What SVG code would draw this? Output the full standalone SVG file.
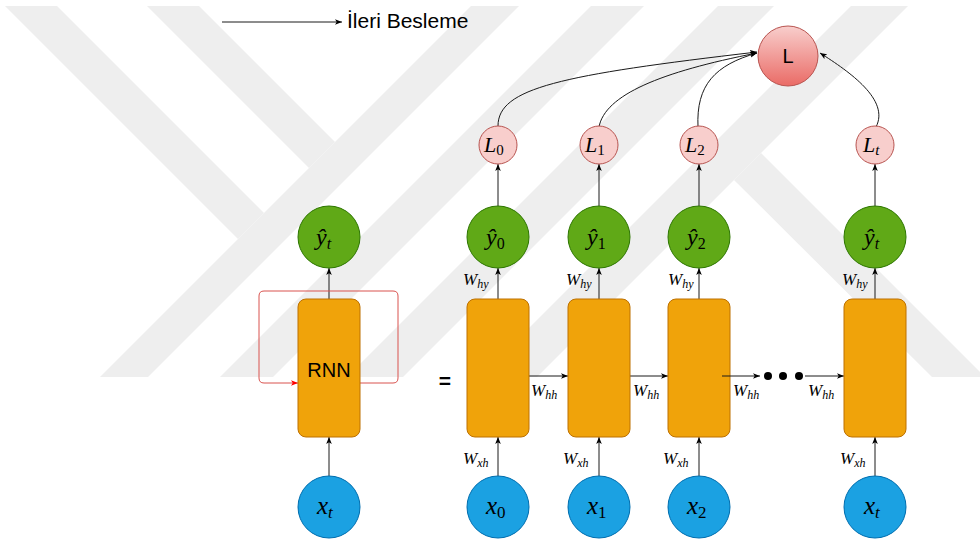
<svg xmlns="http://www.w3.org/2000/svg" width="980" height="540" viewBox="0 0 980 540">
<defs>
<style>
.wm{fill:#eeeeee}
.edge{fill:none;stroke:#1a1a1a;stroke-width:1}
.loop{fill:none;stroke:#d9534f;stroke-width:1}
.cell{fill:#f0a30a;stroke:#bd7000;stroke-width:1}
.out{fill:#60a917;stroke:#2d7600;stroke-width:1}
.inp{fill:#1ba1e2;stroke:#006eaf;stroke-width:1}
.loss{fill:#f8cecc;stroke:#b85450;stroke-width:1}
.m{font-family:"Liberation Serif","Times New Roman",serif;font-style:italic;fill:#000}
.up{font-style:normal}
.sans{font-family:"Liberation Sans",Arial,sans-serif;fill:#000}
.w{font-family:"Liberation Serif","Times New Roman",serif;font-style:italic;font-size:17px;fill:#000}
.ws{font-size:12px}
</style>
<linearGradient id="lg" x1="0" y1="0" x2="0" y2="1">
<stop offset="0" stop-color="#f8cecc"/>
<stop offset="1" stop-color="#ea6b66"/>
</linearGradient>
<marker id="ah" viewBox="0 0 10 8" refX="10" refY="4" markerWidth="7" markerHeight="6" orient="auto" markerUnits="userSpaceOnUse">
<path d="M0,0 L10,4 L0,8 L2.5,4 z" fill="#000"/>
</marker>
<marker id="ahr" viewBox="0 0 10 8" refX="10" refY="4" markerWidth="7" markerHeight="6" orient="auto" markerUnits="userSpaceOnUse">
<path d="M0,0 L10,4 L0,8 L2.5,4 z" fill="#ff0000"/>
</marker>
</defs>

<g id="watermark">
<polygon class="wm" points="5,6 57,6 264,213 238,239"/>
<polygon class="wm" points="147,6 199,6 335,142 309,168"/>
<polygon class="wm" points="471,6 519,6 148,377 100,377"/>
<polygon class="wm" points="591,6 644,6 273,377 220,377"/>
<polygon class="wm" points="718,6 774,6 403,377 347,377"/>
<polygon class="wm" points="851,6 908,6 537,377 480,377"/>
<polygon class="wm" points="761,153 985,377 932,377 734,180"/>
</g>

<g id="legend">
<line class="edge" x1="222" y1="22" x2="342" y2="22" marker-end="url(#ah)"/>
<text class="sans" x="347" y="28" font-size="21">İleri Besleme</text>
</g>

<g id="connectors">
<line class="edge" x1="329" y1="476" x2="329" y2="437" marker-end="url(#ah)"/>
<line class="edge" x1="329" y1="299" x2="329" y2="268" marker-end="url(#ah)"/>
<path class="loop" d="M360,383 L393,383 Q398,383 398,378 L398,296 Q398,291 393,291 L264,291 Q259,291 259,296 L259,378 Q259,383 264,383 L298,383" marker-end="url(#ahr)"/>
<line class="edge" x1="498" y1="476" x2="498" y2="437" marker-end="url(#ah)"/>
<line class="edge" x1="599" y1="476" x2="599" y2="437" marker-end="url(#ah)"/>
<line class="edge" x1="699" y1="476" x2="699" y2="437" marker-end="url(#ah)"/>
<line class="edge" x1="875" y1="476" x2="875" y2="437" marker-end="url(#ah)"/>
<line class="edge" x1="498" y1="299" x2="498" y2="268" marker-end="url(#ah)"/>
<line class="edge" x1="599" y1="299" x2="599" y2="268" marker-end="url(#ah)"/>
<line class="edge" x1="699" y1="299" x2="699" y2="268" marker-end="url(#ah)"/>
<line class="edge" x1="875" y1="299" x2="875" y2="268" marker-end="url(#ah)"/>
<line class="edge" x1="498" y1="206" x2="498" y2="164" marker-end="url(#ah)"/>
<line class="edge" x1="599" y1="206" x2="599" y2="164" marker-end="url(#ah)"/>
<line class="edge" x1="699" y1="206" x2="699" y2="164" marker-end="url(#ah)"/>
<line class="edge" x1="875" y1="206" x2="875" y2="164" marker-end="url(#ah)"/>
<line class="edge" x1="528" y1="376" x2="568" y2="376" marker-end="url(#ah)"/>
<line class="edge" x1="630" y1="376" x2="668" y2="376" marker-end="url(#ah)"/>
<line class="edge" x1="805" y1="376" x2="844" y2="376" marker-end="url(#ah)"/>
<path class="edge" d="M498,126 C498,88 560,75 757,52" marker-end="url(#ah)"/>
<path class="edge" d="M599,127 C605,95 660,72 757,53" marker-end="url(#ah)"/>
<path class="edge" d="M698,127 C696,85 715,65 757,53" marker-end="url(#ah)"/>
<path class="edge" d="M876,127 C890,100 850,72 820,53" marker-end="url(#ah)"/>
</g>

<g id="rnn">
<rect class="cell" x="298" y="299" width="62" height="138" rx="8"/>
<text class="sans" x="329" y="377" font-size="20" text-anchor="middle">RNN</text>
</g>
<g id="yt-folded"><circle class="out" cx="329" cy="237" r="31"/><text class="m" x="316" y="245" font-size="24">ŷ<tspan font-size="16" dy="4">t</tspan></text></g>
<g id="xt-folded"><circle class="inp" cx="329" cy="507" r="31"/><text class="m" x="317" y="514" font-size="25">x<tspan font-size="17" dy="4">t</tspan></text></g>

<g id="equals"><text class="sans" x="445" y="388" font-size="21" font-weight="bold" text-anchor="middle">=</text></g>

<g id="cell0"><rect class="cell" x="467" y="299" width="62" height="138" rx="8"/></g>
<g id="cell1"><rect class="cell" x="568" y="299" width="62" height="138" rx="8"/></g>
<g id="cell2"><rect class="cell" x="668" y="299" width="62" height="138" rx="8"/></g>
<g id="cellt"><rect class="cell" x="844" y="299" width="62" height="138" rx="8"/></g>

<g id="edge-overlay">
<line class="edge" x1="722" y1="376" x2="760" y2="376" marker-end="url(#ah)"/>
<circle cx="768" cy="376" r="4" fill="#000"/>
<circle cx="783" cy="376" r="4" fill="#000"/>
<circle cx="799" cy="376" r="4" fill="#000"/>
</g>

<g id="x0"><circle class="inp" cx="498" cy="507" r="31"/><text class="m" x="486" y="514" font-size="25">x<tspan class="up" font-size="17" dy="4">0</tspan></text></g>
<g id="x1"><circle class="inp" cx="599" cy="507" r="31"/><text class="m" x="587" y="514" font-size="25">x<tspan class="up" font-size="17" dy="4">1</tspan></text></g>
<g id="x2"><circle class="inp" cx="699" cy="507" r="31"/><text class="m" x="687" y="514" font-size="25">x<tspan class="up" font-size="17" dy="4">2</tspan></text></g>
<g id="xt"><circle class="inp" cx="875" cy="507" r="31"/><text class="m" x="864" y="514" font-size="25">x<tspan font-size="17" dy="4">t</tspan></text></g>

<g id="y0"><circle class="out" cx="498" cy="237" r="31"/><text class="m" x="486" y="245" font-size="24">ŷ<tspan class="up" font-size="16" dy="4">0</tspan></text></g>
<g id="y1"><circle class="out" cx="599" cy="237" r="31"/><text class="m" x="587" y="245" font-size="24">ŷ<tspan class="up" font-size="16" dy="4">1</tspan></text></g>
<g id="y2"><circle class="out" cx="699" cy="237" r="31"/><text class="m" x="687" y="245" font-size="24">ŷ<tspan class="up" font-size="16" dy="4">2</tspan></text></g>
<g id="yt"><circle class="out" cx="875" cy="237" r="31"/><text class="m" x="864" y="245" font-size="24">ŷ<tspan font-size="16" dy="4">t</tspan></text></g>

<g id="L0"><circle class="loss" cx="498" cy="145" r="19"/><text class="m" x="484" y="152" font-size="22">L<tspan class="up" font-size="15" dy="3">0</tspan></text></g>
<g id="L1"><circle class="loss" cx="599" cy="145" r="19"/><text class="m" x="585" y="152" font-size="22">L<tspan class="up" font-size="15" dy="3">1</tspan></text></g>
<g id="L2"><circle class="loss" cx="699" cy="145" r="19"/><text class="m" x="685" y="152" font-size="22">L<tspan class="up" font-size="15" dy="3">2</tspan></text></g>
<g id="Lt"><circle class="loss" cx="875" cy="145" r="19"/><text class="m" x="863" y="152" font-size="22">L<tspan font-size="15" dy="3">t</tspan></text></g>

<g id="L"><circle cx="788" cy="56" r="30" fill="url(#lg)" stroke="#b85450"/><text class="sans" x="788" y="63" font-size="20" text-anchor="middle">L</text></g>

<g id="weight-labels">
<text class="w" x="463" y="464">W<tspan class="ws" dy="3">xh</tspan></text>
<text class="w" x="563" y="464">W<tspan class="ws" dy="3">xh</tspan></text>
<text class="w" x="663" y="464">W<tspan class="ws" dy="3">xh</tspan></text>
<text class="w" x="840" y="464">W<tspan class="ws" dy="3">xh</tspan></text>
<text class="w" x="463" y="285">W<tspan class="ws" dy="3">hy</tspan></text>
<text class="w" x="566" y="285">W<tspan class="ws" dy="3">hy</tspan></text>
<text class="w" x="668" y="285">W<tspan class="ws" dy="3">hy</tspan></text>
<text class="w" x="842" y="285">W<tspan class="ws" dy="3">hy</tspan></text>
<text class="w" x="531" y="396">W<tspan class="ws" dy="3">hh</tspan></text>
<text class="w" x="633" y="396">W<tspan class="ws" dy="3">hh</tspan></text>
<text class="w" x="733" y="396">W<tspan class="ws" dy="3">hh</tspan></text>
<text class="w" x="808" y="396">W<tspan class="ws" dy="3">hh</tspan></text>
</g>
</svg>
